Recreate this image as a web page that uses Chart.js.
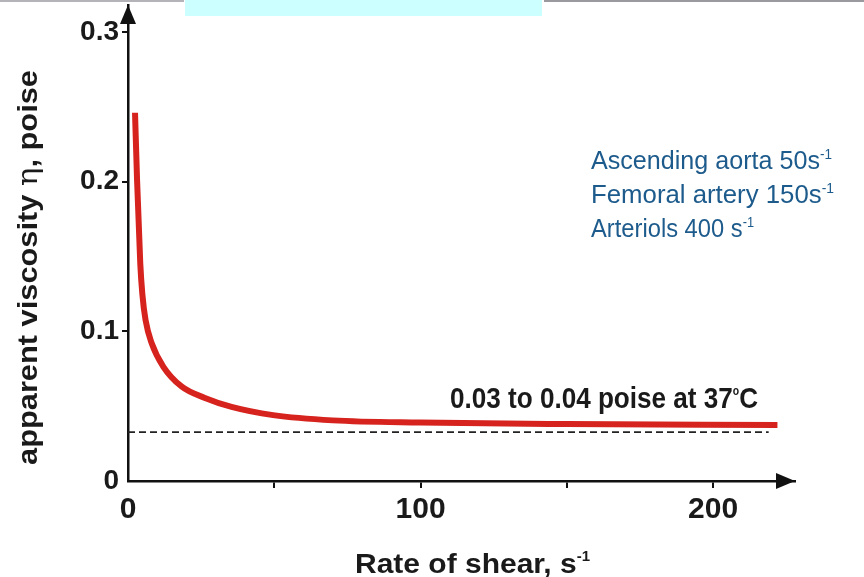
<!DOCTYPE html>
<html>
<head>
<meta charset="utf-8">
<script src="https://cdn.jsdelivr.net/npm/chart.js@4/dist/chart.umd.min.js"></script>
<style>
  body { margin: 0; background: #fff; }
  #wrap { position: relative; width: 864px; height: 577px; }
  .bar { position: absolute; }
</style>
</head>
<body>
<div id="wrap">
  <canvas id="viscosity-chart" width="864" height="577"></canvas>
  <div class="bar" style="left:0;top:0;width:184px;height:2px;background:#b4b4b8"></div>
  <div class="bar" style="left:185px;top:0;width:357px;height:16px;background:#ccffff"></div>
  <div class="bar" style="left:544px;top:0;width:320px;height:2px;background:#9a9a9e"></div>
</div>
<script>
// Values
const shearRate = [2.4, 3.1, 4.2, 4.9, 6.0, 8.1, 12.1, 18.4, 26.3, 35.4, 49.6, 70, 99.8, 150, 222];
const viscosity = [0.246, 0.201, 0.145, 0.125, 0.1075, 0.092, 0.0763, 0.063, 0.0555, 0.0495, 0.044, 0.0405, 0.039, 0.038, 0.0374];

// dashed reference level
const refRate = [0, 219];
const refViscosity = [0.0327, 0.0327];

const xTicks = [0, 50, 100, 150, 200];
const xTickLabels = ["0", "", "100", "", "200"];
const yTicks = [0, 0.1, 0.2, 0.3];
const yTickLabels = ["0", "0.1", "0.2", "0.3"];

const vesselNotes = ["Ascending aorta 50s", "Femoral artery 150s", "Arteriols 400 s"];

const sans = '"Liberation Sans", Arial, sans-serif';

// draw a line of text with optional superscripts, squeezed to a given width
function richText(ctx, x, y, parts, targetW, color, angle) {
  let w = 0;
  parts.forEach(p => {
    ctx.font = p.font;
    p.w = ctx.measureText(p.text).width;
    w += p.w;
  });
  let k = targetW ? targetW / w : 1;
  ctx.save();
  ctx.translate(x, y);
  if (angle) ctx.rotate(angle);
  ctx.scale(k, 1);
  ctx.fillStyle = color;
  ctx.textBaseline = "alphabetic";
  ctx.textAlign = "left";
  let cx = 0;
  parts.forEach(p => {
    ctx.font = p.font;
    ctx.fillText(p.text, cx, -(p.rise || 0));
    cx += p.w;
  });
  ctx.restore();
}

const decorations = {
  id: "decorations",
  afterDraw(chart) {
    const ctx = chart.ctx;
    const a = chart.chartArea;

    // arrow heads on both axes
    ctx.save();
    ctx.fillStyle = "#111";
    ctx.beginPath();
    ctx.moveTo(a.left, a.top);
    ctx.lineTo(a.left - 8, a.top + 19);
    ctx.lineTo(a.left + 8, a.top + 19);
    ctx.closePath();
    ctx.fill();
    ctx.beginPath();
    ctx.moveTo(a.right, a.bottom);
    ctx.lineTo(a.right - 19, a.bottom - 8);
    ctx.lineTo(a.right - 19, a.bottom + 8);
    ctx.closePath();
    ctx.fill();
    ctx.restore();

    // axis titles
    richText(ctx, 355, 573, [
      { text: "Rate of shear, s", font: "bold 28px " + sans },
      { text: "-1", font: "bold 14px " + sans, rise: 12 }
    ], 235, "#1a1a1a");

    richText(ctx, 37, 465, [
      { text: "apparent viscosity ", font: "bold 27px " + sans },
      { text: "η", font: "27px \"DejaVu Serif\", serif" },
      { text: ", poise", font: "bold 27px " + sans }
    ], 395, "#1a1a1a", -Math.PI / 2);

    // level note
    richText(ctx, 450, 408, [
      { text: "0.03 to 0.04 poise at 37", font: "bold 30px " + sans },
      { text: "o", font: "bold 12px " + sans, rise: 13 },
      { text: "C", font: "bold 30px " + sans }
    ], 308, "#1a1a1a");

    // vessel shear rates
    const widths = [241, 243, 163];
    const baselines = [169, 203, 237];
    vesselNotes.forEach((t, i) => {
      richText(ctx, 591, baselines[i], [
        { text: t, font: "26px " + sans },
        { text: "-1", font: "14px " + sans, rise: 10 }
      ], widths[i], "#1d5b8c");
    });
  }
};

const hideZero = c => (c.tick && c.tick.value === 0 ? "rgba(0,0,0,0)" : "#111");

new Chart(document.getElementById("viscosity-chart"), {
  type: "scatter",
  data: {
    datasets: [
      {
        label: "apparent viscosity",
        data: shearRate.map((x, i) => ({ x: x, y: viscosity[i] })),
        showLine: true,
        borderColor: "#d6231e",
        borderWidth: 6,
        borderCapStyle: "butt",
        pointRadius: 0,
        cubicInterpolationMode: "monotone"
      },
      {
        label: "0.03 to 0.04 poise",
        data: refRate.map((x, i) => ({ x: x, y: refViscosity[i] })),
        showLine: true,
        borderColor: "#222",
        borderWidth: 1.7,
        borderDash: [7, 4],
        pointRadius: 0
      }
    ]
  },
  options: {
    responsive: false,
    animation: false,
    layout: { padding: { top: 5, right: 69, left: 0, bottom: 0 } },
    plugins: {
      legend: { display: false },
      tooltip: { enabled: false }
    },
    scales: {
      x: {
        type: "linear",
        min: 0,
        max: 228,
        afterFit: s => { s.height = 96; s.paddingLeft = 0; s.paddingRight = 0; },
        afterBuildTicks: s => { s.ticks = xTicks.map(v => ({ value: v })); },
        ticks: {
          includeBounds: false,
          maxRotation: 0,
          autoSkip: false,
          padding: 4,
          color: "#1a1a1a",
          font: { family: sans, size: 30, weight: "bold" },
          callback: (v, i) => xTickLabels[i]
        },
        grid: { drawOnChartArea: false, tickLength: 7, lineWidth: 2, color: hideZero },
        border: { display: true, color: "#111", width: 2.5 }
      },
      y: {
        type: "linear",
        min: 0,
        max: 0.318,
        afterFit: s => { s.width = 128; s.paddingTop = 0; s.paddingBottom = 0; },
        afterBuildTicks: s => { s.ticks = yTicks.map(v => ({ value: v })); },
        ticks: {
          includeBounds: false,
          autoSkip: false,
          padding: 3,
          color: "#1a1a1a",
          font: { family: sans, size: 28, weight: "bold" },
          callback: (v, i) => yTickLabels[i]
        },
        grid: { drawOnChartArea: false, tickLength: 6, lineWidth: 2, color: hideZero },
        border: { display: true, color: "#111", width: 2.5 }
      }
    }
  },
  plugins: [decorations]
});
</script>
</body>
</html>
